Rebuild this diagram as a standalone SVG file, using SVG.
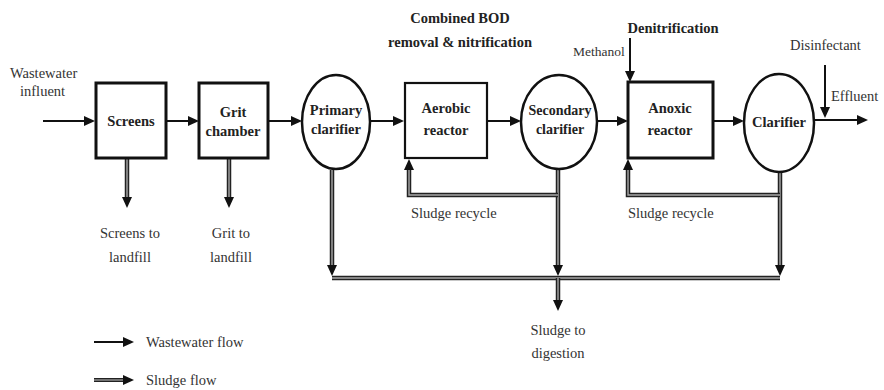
<svg xmlns="http://www.w3.org/2000/svg" width="884" height="390" viewBox="0 0 884 390" font-family="Liberation Serif, Times New Roman, serif">
<defs>
<style>
.t{font-size:14.5px;fill:#333}
.b{font-size:14.5px;font-weight:bold;fill:#222}
.box{fill:#fff;stroke:#111;stroke-width:3}
.box2{fill:#fff;stroke:#111;stroke-width:2.2}
.ell{fill:#fff;stroke:#111;stroke-width:2.5}
.ww{fill:none;stroke:#111;stroke-width:2;marker-end:url(#ah)}
.so{fill:none;stroke:#222;stroke-width:4.5}
.si{fill:none;stroke:#a8a8a8;stroke-width:1.4}
</style>
<marker id="ah" markerUnits="userSpaceOnUse" markerWidth="12" markerHeight="10" refX="0" refY="5" orient="auto" viewBox="0 0 12 10">
<path d="M0,0 L11,5 L0,10 z" fill="#111"/>
</marker>
<marker id="sh" markerUnits="userSpaceOnUse" markerWidth="12" markerHeight="10" refX="0" refY="5" orient="auto" viewBox="0 0 12 10">
<path d="M0,0 L11,5 L0,10 z" fill="#111"/>
</marker>
</defs>
<rect width="884" height="390" fill="#fff"/>

<g id="connectors">
<path class="ww" d="M43,121 H84"/>
<path class="ww" d="M166,121 H188"/>
<path class="ww" d="M269,121 H291"/>
<path class="ww" d="M371,121 H393"/>
<path class="ww" d="M487,121 H510"/>
<path class="ww" d="M598,121 H617"/>
<path class="ww" d="M713,121 H733"/>
<path class="ww" d="M815,120 H857"/>
<path class="ww" d="M630,38 V71"/>
<path class="ww" d="M825,65 V107"/>
<g id="sludge">
<path class="so" d="M127,158 V197" marker-end="url(#sh)"/>
<path class="si" d="M127,158 V197"/>
<path class="so" d="M229,158 V197" marker-end="url(#sh)"/>
<path class="si" d="M229,158 V197"/>
<path class="so" d="M332,170 V265" marker-end="url(#sh)"/>
<path class="si" d="M332,170 V265"/>
<path class="so" d="M558,170 V265" marker-end="url(#sh)"/>
<path class="si" d="M558,170 V265"/>
<path class="so" d="M780,172 V265" marker-end="url(#sh)"/>
<path class="si" d="M780,172 V265"/>
<path class="so" d="M558,195 H409 V170" marker-end="url(#sh)"/>
<path class="si" d="M558,195 H409 V170"/>
<path class="so" d="M780,195 H628 V170" marker-end="url(#sh)"/>
<path class="si" d="M780,195 H628 V170"/>
<path class="so" d="M332,278 H780"/>
<path class="si" d="M332,278 H780"/>
<path class="so" d="M558,278 V300" marker-end="url(#sh)"/>
<path class="si" d="M558,278 V300"/>
</g>
</g>

<g id="screens">
<rect class="box" x="96" y="83" width="70" height="75"/>
<text class="b" x="131" y="126" text-anchor="middle">Screens</text>
</g>
<g id="grit">
<rect class="box" x="199" y="83" width="69" height="75"/>
<text class="b" x="233" y="117" text-anchor="middle">Grit</text>
<text class="b" x="233" y="136" text-anchor="middle">chamber</text>
</g>
<g id="primary">
<ellipse class="ell" cx="336" cy="122" rx="34" ry="47"/>
<text class="b" x="336" y="115" text-anchor="middle">Primary</text>
<text class="b" x="336" y="134" text-anchor="middle">clarifier</text>
</g>
<g id="aerobic">
<rect class="box2" x="405" y="83" width="82" height="75"/>
<text class="b" x="446" y="113" text-anchor="middle">Aerobic</text>
<text class="b" x="446" y="135" text-anchor="middle">reactor</text>
</g>
<g id="secondary">
<ellipse class="ell" cx="559" cy="122" rx="38" ry="47"/>
<text class="b" x="560" y="115" text-anchor="middle" style="font-size:14px">Secondary</text>
<text class="b" x="560" y="134" text-anchor="middle" style="font-size:14px">clarifier</text>
</g>
<g id="anoxic">
<rect class="box" x="628" y="82" width="85" height="76"/>
<text class="b" x="670" y="113" text-anchor="middle">Anoxic</text>
<text class="b" x="670" y="135" text-anchor="middle">reactor</text>
</g>
<g id="clarifier">
<ellipse class="ell" cx="779" cy="123" rx="35" ry="49"/>
<text class="b" x="779" y="127" text-anchor="middle">Clarifier</text>
</g>

<g id="labels">
<text class="t" x="10" y="78">Wastewater</text>
<text class="t" x="20" y="96">influent</text>
<text class="b" x="460" y="23" text-anchor="middle">Combined BOD</text>
<text class="b" x="460" y="47" text-anchor="middle">removal &amp; nitrification</text>
<text class="b" x="673" y="33" text-anchor="middle">Denitrification</text>
<text class="t" x="573" y="56" style="font-size:13.5px">Methanol</text>
<text class="t" x="790" y="50">Disinfectant</text>
<text class="t" x="831" y="101">Effluent</text>
<text class="t" x="411" y="218">Sludge recycle</text>
<text class="t" x="628" y="218">Sludge recycle</text>
<text class="t" x="130" y="238" text-anchor="middle">Screens to</text>
<text class="t" x="130" y="262" text-anchor="middle">landfill</text>
<text class="t" x="231" y="238" text-anchor="middle">Grit to</text>
<text class="t" x="231" y="262" text-anchor="middle">landfill</text>
<text class="t" x="558" y="335" text-anchor="middle">Sludge to</text>
<text class="t" x="558" y="358" text-anchor="middle">digestion</text>
</g>

<g id="legend">
<path class="ww" d="M94,342 H123"/>
<text class="t" x="146" y="347">Wastewater flow</text>
<path class="so" d="M94,380 H123" style="stroke-width:4" marker-end="url(#sh)"/>
<path class="si" d="M94,380 H123" style="stroke-width:1.2"/>
<text class="t" x="146" y="385">Sludge flow</text>
</g>
</svg>
